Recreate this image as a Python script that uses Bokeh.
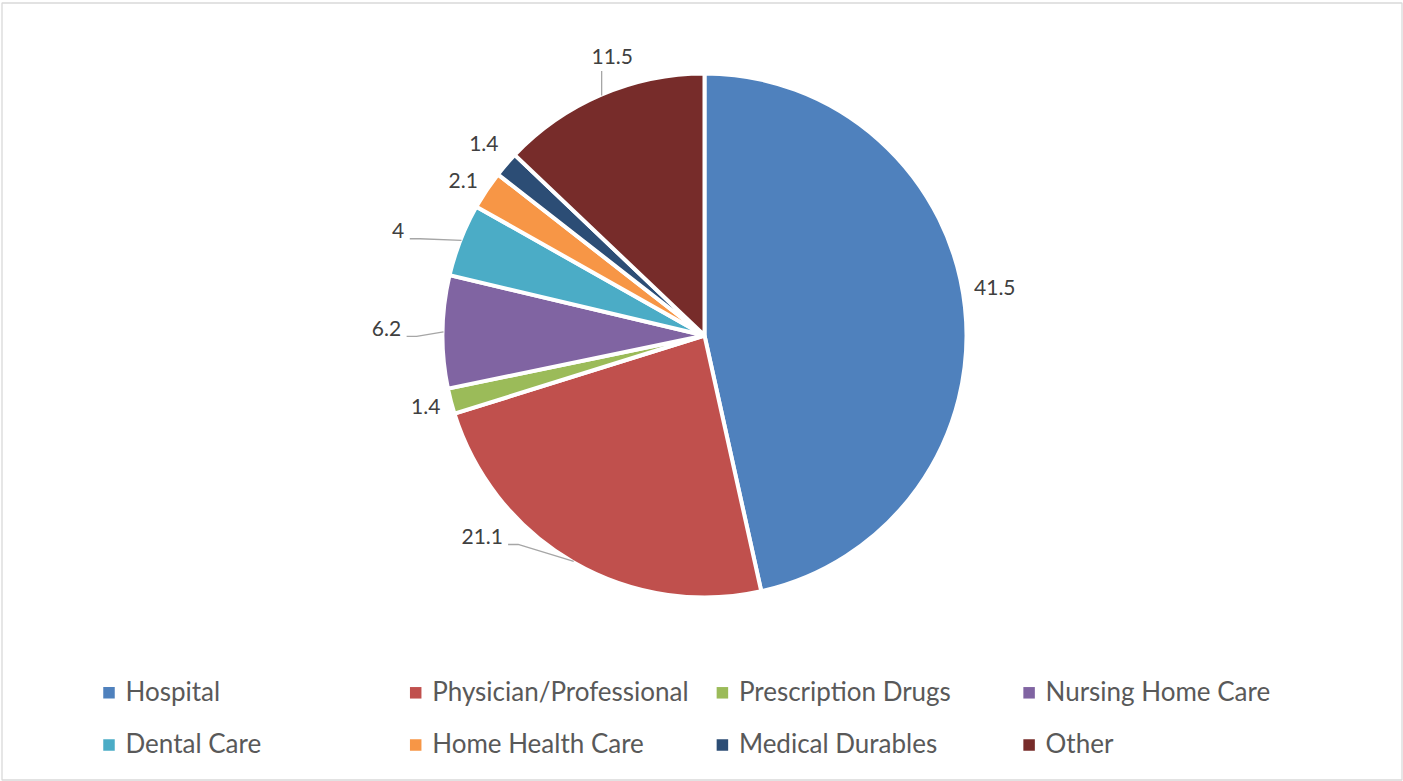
import math
from bokeh.plotting import figure
from bokeh.models import Range1d, ColumnDataSource
from bokeh.core.properties import value
from bokeh.embed import file_html
from bokeh.resources import INLINE

# ---------------- data ----------------
categories = ["Hospital", "Physician/Professional", "Prescription Drugs", "Nursing Home Care",
              "Dental Care", "Home Health Care", "Medical Durables", "Other"]
values = [41.5, 21.1, 1.4, 6.2, 4, 2.1, 1.4, 11.5]
colors = ["#4F81BD", "#C0504D", "#9BBB59", "#8064A2", "#4BACC6", "#F79646", "#2C4D75", "#772C2A"]
label_texts = [f"{v:g}" for v in values]

# ---------------- layout (style) ----------------
W, H = 1403, 781
OFF = 0


def X(sx):
    return sx - OFF


def Y(sy):
    return H + OFF - sy


CX, CY = 704, 335            # pie centre (page px)
R = 262
LABEL_R = 290
ANCHOR_R = 261
label_nudges = [(2, -14), (-77, -48), (2, 0), (-28, -1), (-36.5, 3), (0, 8), (-1, -1), (22, -10)]
has_leader = [False, True, False, True, True, False, False, True]
LABEL_FS = 21
LEGEND_FS = 26
LABEL_DY = -9                # svg baseline correction
LEGEND_DY = -10
FONT = "Lato"

p = figure(width=W, height=H, output_backend="svg", toolbar_location=None,
           x_range=Range1d(0, W), y_range=Range1d(0, H),
           x_axis_location=None, y_axis_location=None, min_border=0)
p.grid.visible = False
p.outline_line_color = None
p.background_fill_color = "white"
p.border_fill_color = "white"

# chart border
p.quad(left=[1.5], right=[1401.5], top=[Y(2.5)], bottom=[Y(779.5)],
       fill_color=None, line_color="#d9d9d9", line_width=1.3)

total = sum(values)
cum = [0]
for v in values:
    cum.append(cum[-1] + v)

starts = [math.radians(90 - cum[i] / total * 360) for i in range(len(values))]
ends = [math.radians(90 - cum[i + 1] / total * 360) for i in range(len(values))]

src = ColumnDataSource(dict(x=[X(CX)] * len(values), y=[Y(CY)] * len(values),
                            start=starts, end=ends, color=colors, cat=categories))
p.wedge(x="x", y="y", radius=R, start_angle="start", end_angle="end", direction="clock",
        fill_color="color", line_color="white", line_width=4, source=src)

# ---------------- data labels ----------------
lx_list, ly_list, lead_xs, lead_ys = [], [], [], []
for i, v in enumerate(values):
    mid = (cum[i] + cum[i + 1]) / 2 / total * 2 * math.pi   # clockwise from top
    s, c = math.sin(mid), math.cos(mid)
    nx, ny = label_nudges[i]
    lx = CX + LABEL_R * s + nx
    lcy = CY - LABEL_R * c + ny
    base = lcy + 7
    lx_list.append(X(lx))
    ly_list.append(Y(base + LABEL_DY))
    if has_leader[i]:
        ax, ay = CX + ANCHOR_R * s, CY - ANCHOR_R * c
        txt = label_texts[i]
        w = sum(0.25 * 20 if ch == "." else 0.58 * 20 for ch in txt)
        if c > 0.7:
            pts = [(ax, base + 5), (ax, ay)]
        else:
            x0 = lx + w / 2 + 6
            y0 = base - 1
            pts = [(x0, y0), (x0 + 10, y0), (ax, ay)]
        lead_xs.append([X(a) for a, b in pts])
        lead_ys.append([Y(b) for a, b in pts])

p.multi_line(xs=lead_xs, ys=lead_ys, line_color="#a6a6a6", line_width=1.3)
p.text(x=lx_list, y=ly_list, text=label_texts, text_align="center", text_baseline="alphabetic",
       text_font=value(FONT), text_font_size=f"{LABEL_FS}px", text_color="#404040")

# ---------------- legend ----------------
COL0_SQ, COL0_TX, COL_STEP = 108.5, 125, 306.7
ROW0_SQ, ROW0_TX, ROW_STEP = 692.3, 700.7, 52.2
sq_x, sq_y, tx_x, tx_y = [], [], [], []
for i, cat in enumerate(categories):
    col, row = i % 4, i // 4
    sq_x.append(X(COL0_SQ + col * COL_STEP))
    sq_y.append(Y(ROW0_SQ + row * ROW_STEP))
    tx_x.append(X(COL0_TX + col * COL_STEP))
    tx_y.append(Y(ROW0_TX + row * ROW_STEP + LEGEND_DY))

p.rect(x=sq_x, y=sq_y, width=11.5, height=11.5, fill_color=colors, line_color=None)
p.text(x=tx_x, y=tx_y, text=categories, text_align="left", text_baseline="alphabetic",
       text_font=value(FONT), text_font_size=f"{LEGEND_FS}px", text_color="#595959")

open("out.html", "w").write(file_html(p, INLINE))
